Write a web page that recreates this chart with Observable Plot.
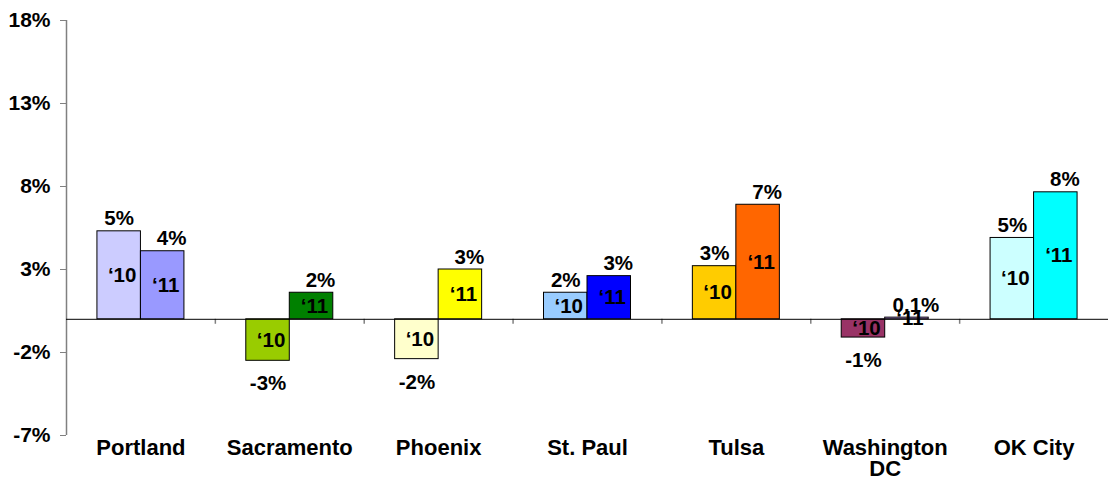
<!DOCTYPE html>
<html>
<head>
<meta charset="utf-8">
<script src="https://cdn.jsdelivr.net/npm/d3@7"></script>
<script src="https://cdn.jsdelivr.net/npm/@observablehq/plot@0.6"></script>
<style>
  html, body { margin: 0; padding: 0; background: #fff; }
  #chart svg { display: block; }
  #chart g[aria-label="y-axis tick"] path { stroke: #808080; }
</style>
</head>
<body>
<div id="chart"></div>
<script>
// ---- data ----
const cities = ["Portland", "Sacramento", "Phoenix", "St. Paul", "Tulsa", "Washington DC", "OK City"];
const cityLabels = ["Portland", "Sacramento", "Phoenix", "St. Paul", "Tulsa", "Washington\nDC", "OK City"];
const values10 = [5.3, -2.5, -2.4, 1.6, 3.2, -1.1, 4.9];
const values11 = [4.1, 1.6, 3.0, 2.6, 6.9, 0.1, 7.65];
const labels10 = ["5%", "-3%", "-2%", "2%", "3%", "-1%", "5%"];
const labels11 = ["4%", "2%", "3%", "3%", "7%", "0.1%", "8%"];
const colors10 = ["#CCCCFF", "#99CC00", "#FFFFCC", "#99CCFF", "#FFCC00", "#993366", "#CCFFFF"];
const colors11 = ["#9999FF", "#008000", "#FFFF00", "#0000FF", "#FF6600", "#CC99FF", "#00FFFF"];
const yearTags = ["\u201810", "\u201811"];
const yTicks = [-7, -2, 3, 8, 13, 18];
const yDomain = [-7, 18];

// ---- layout ----
const W = 1108, H = 481;
const mL = 66, mR = 0, mT = 20, mB = 46;
const bw = (W - mL - mR) / cities.length;
const barW = 43.5;
const outer = (bw - 2 * barW) / 2;
const font = "'Liberation Sans', Arial, Helvetica, sans-serif";

const rows10 = cities.map((c, i) => ({city: c, v: values10[i], label: labels10[i], color: colors10[i], tag: yearTags[0]}));
const rows11 = cities.map((c, i) => ({city: c, v: values11[i], label: labels11[i], color: colors11[i], tag: yearTags[1]}));
const cityRows = cities.map((c, i) => ({city: c, label: cityLabels[i]}));

const txt = {fontSize: 20.5, fontWeight: "bold", fontFamily: font, fill: "black"};

function yearMarks(rows, insetLeft, insetRight, labelDx) {
  const center = (insetLeft - insetRight) / 2;
  return [
    Plot.barY(rows, {x: "city", y: "v", fill: "color", stroke: "black", strokeWidth: 1, insetLeft, insetRight}),
    Plot.text(rows, {x: "city", y: d => d.v / 2, text: "tag", dx: center + 3, ...txt}),
    Plot.text(rows, {filter: d => d.v >= 0, x: "city", y: "v", text: "label", dx: center + labelDx, dy: -6, lineAnchor: "bottom", ...txt}),
    Plot.text(rows, {filter: d => d.v < 0, x: "city", y: "v", text: "label", dx: center + labelDx, dy: 15, lineAnchor: "top", ...txt})
  ];
}

const chart = Plot.plot({
  width: W,
  height: H,
  marginLeft: mL,
  marginRight: mR,
  marginTop: mT,
  marginBottom: mB,
  style: {fontFamily: font, fontSize: "21px", fontWeight: "bold", color: "black", background: "white"},
  x: {domain: cities, padding: 0, round: false, axis: null},
  y: {domain: yDomain, ticks: yTicks, tickFormat: d => d + "%", tickSize: 6, tickPadding: 10, label: null},
  color: {type: "identity"},
  marks: [
    Plot.ruleX([cities[0]], {x: d => d, dx: -bw / 2, y1: yDomain[0], y2: yDomain[1], stroke: "#808080", strokeWidth: 1.5}),
    Plot.ruleX(cities.slice(1), {x: d => d, dx: -bw / 2, y1: 0, y2: -0.3, stroke: "#808080", strokeWidth: 1.5}),
    ...yearMarks(rows10, outer, outer + barW, 0),
    ...yearMarks(rows11, outer + barW, outer, 9),
    Plot.ruleY([0], {stroke: "black", strokeWidth: 1}),
    Plot.text(cityRows, {x: "city", y: yDomain[0], text: "label", dy: 5, lineAnchor: "top", lineHeight: 0.95, ...txt, fontSize: 22})
  ]
});
document.getElementById("chart").appendChild(chart);
</script>
</body>
</html>
